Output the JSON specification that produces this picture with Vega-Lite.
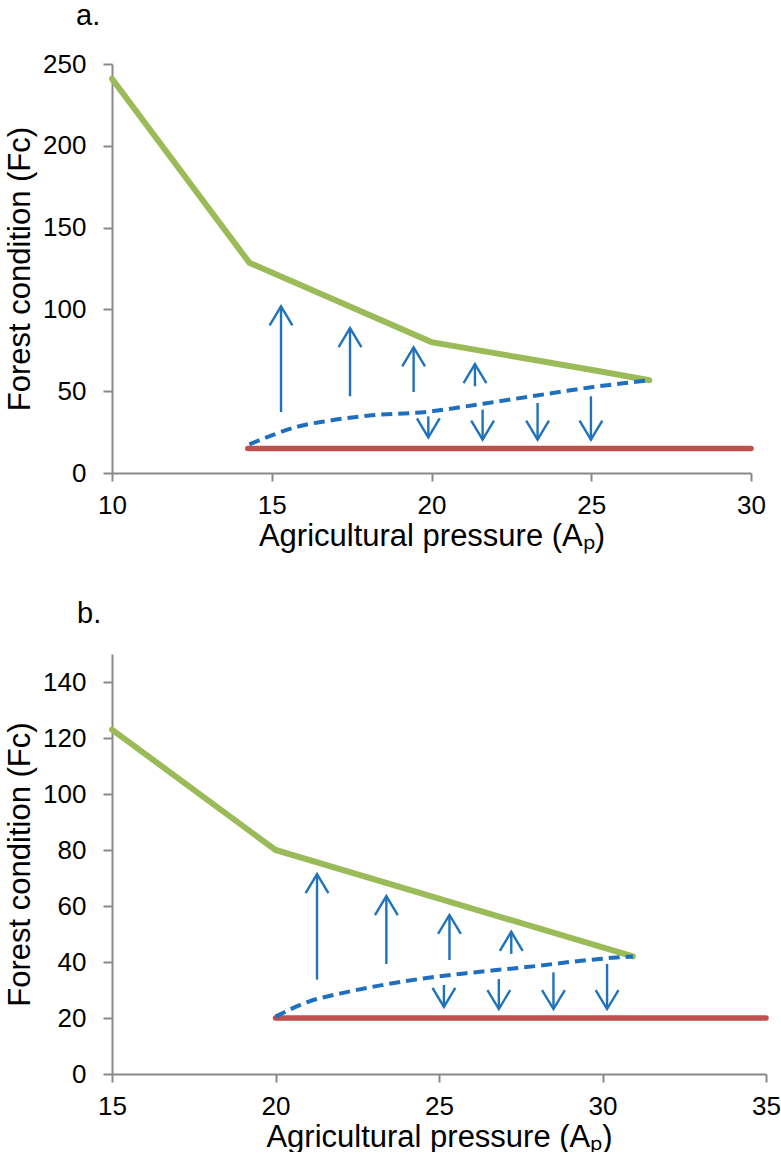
{
  "$schema": "https://vega.github.io/schema/vega-lite/v6.json",
  "background": "white",
  "padding": {"left": 4, "top": 2, "right": 0, "bottom": 0},
  "spacing": 49,
  "config": {
    "view": {"stroke": null},
    "font": "Liberation Sans",
    "axis": {
      "domainColor": "#898989", "tickColor": "#898989", "domainWidth": 2, "tickWidth": 2,
      "grid": false, "labelFont": "Liberation Sans", "labelFontSize": 26, "labelColor": "#000000",
      "titleFont": "Liberation Sans", "titleFontSize": 31, "titleFontWeight": "normal", "titleColor": "#000000",
      "labelFlush": false, "tickSize": 9
    },
    "axisX": {"labelPadding": 11, "titlePadding": 3, "tickSize": 8},
    "axisY": {"labelPadding": 17, "titlePadding": 6},
    "title": {"font": "Liberation Sans", "fontSize": 29, "fontWeight": "normal", "color": "#000000", "anchor": "start", "frame": "group"}
  },
  "datasets": {
    "a_upper": [
      {"ap": 10, "fc": 241}, {"ap": 14.3, "fc": 128.5}, {"ap": 20, "fc": 80}, {"ap": 23, "fc": 69.8}, {"ap": 25.3, "fc": 62}, {"ap": 26.82, "fc": 56.7}
    ],
    "a_lower": [{"ap": 14.25, "fc": 15}, {"ap": 30, "fc": 15}],
    "a_mid": [
      {"ap": 14.3, "fc": 17.5}, {"ap": 15, "fc": 23}, {"ap": 15.8, "fc": 28.3}, {"ap": 16.8, "fc": 32}, {"ap": 18, "fc": 35}, {"ap": 20, "fc": 37.7},
      {"ap": 21, "fc": 40.5}, {"ap": 22, "fc": 43.5}, {"ap": 23, "fc": 46.5}, {"ap": 24, "fc": 49.5}, {"ap": 25, "fc": 52.4}, {"ap": 26, "fc": 54.8}, {"ap": 26.82, "fc": 56.7}
    ],
    "a_arrows": [
      {"ap": 15.29, "from": 37.3, "to": 101.9, "dir": "up"},
      {"ap": 17.45, "from": 46.9, "to": 88.6, "dir": "up"},
      {"ap": 19.44, "from": 49.5, "to": 76.8, "dir": "up"},
      {"ap": 21.36, "from": 53, "to": 66.6, "dir": "up"},
      {"ap": 19.9, "from": 34.6, "to": 21.8, "dir": "down"},
      {"ap": 21.6, "from": 38.7, "to": 20.4, "dir": "down"},
      {"ap": 23.32, "from": 42.8, "to": 20.4, "dir": "down"},
      {"ap": 24.99, "from": 46.9, "to": 20.4, "dir": "down"}
    ],
    "b_upper": [{"ap": 15, "fc": 123}, {"ap": 20, "fc": 80}, {"ap": 25, "fc": 62.6}, {"ap": 30.93, "fc": 42}],
    "b_lower": [{"ap": 20, "fc": 20}, {"ap": 35, "fc": 20}],
    "b_mid": [
      {"ap": 20, "fc": 20.5}, {"ap": 21, "fc": 25.8}, {"ap": 22, "fc": 28.8}, {"ap": 23, "fc": 31.2}, {"ap": 24, "fc": 33.2}, {"ap": 25, "fc": 34.9},
      {"ap": 26, "fc": 36.2}, {"ap": 27, "fc": 37.4}, {"ap": 28, "fc": 38.6}, {"ap": 29, "fc": 40}, {"ap": 30, "fc": 41.2}, {"ap": 30.93, "fc": 42}
    ],
    "b_arrows": [
      {"ap": 21.27, "from": 33.7, "to": 71.4, "dir": "up"},
      {"ap": 23.39, "from": 39.3, "to": 63.5, "dir": "up"},
      {"ap": 25.32, "from": 40.7, "to": 56.8, "dir": "up"},
      {"ap": 27.21, "from": 42.9, "to": 50.8, "dir": "up"},
      {"ap": 25.15, "from": 31.8, "to": 24, "dir": "down"},
      {"ap": 26.83, "from": 33.9, "to": 23.2, "dir": "down"},
      {"ap": 28.5, "from": 36.3, "to": 23.2, "dir": "down"},
      {"ap": 30.14, "from": 39.3, "to": 23.2, "dir": "down"}
    ]
  },
  "vconcat": [
    {
      "width": 639,
      "height": 409,
      "title": {"text": "a.", "dx": -36, "offset": 20},
      "encoding": {
        "x": {"field": "ap", "type": "quantitative", "scale": {"domain": [10, 30], "nice": false}, "axis": {"values": [10, 15, 20, 25, 30], "title": "Agricultural pressure (Aₚ)"}},
        "y": {"field": "fc", "type": "quantitative", "scale": {"domain": [0, 250], "nice": false}, "axis": {"values": [0, 50, 100, 150, 200, 250], "title": "Forest condition (Fᴄ)"}}
      },
      "layer": [
        {"data": {"name": "a_lower"}, "mark": {"type": "line", "color": "#C0504D", "strokeWidth": 5.5, "strokeCap": "round"}},
        {"data": {"name": "a_upper"}, "mark": {"type": "line", "color": "#9BBB59", "strokeWidth": 6, "strokeCap": "round"}},
        {"data": {"name": "a_mid"}, "mark": {"type": "line", "color": "#1F6FBF", "strokeWidth": 4, "strokeDash": [11, 6], "interpolate": "monotone"}},
        {"data": {"name": "a_arrows"}, "mark": {"type": "rule", "color": "#1F72BB", "strokeWidth": 2.4},
         "encoding": {"y": {"field": "from", "type": "quantitative"}, "y2": {"field": "to"}}},
        {"data": {"name": "a_arrows"}, "mark": {"type": "point", "filled": false, "color": "#1F72BB", "strokeWidth": 2.4, "size": 1444, "opacity": 1},
         "encoding": {"y": {"field": "to", "type": "quantitative"},
           "shape": {"field": "dir", "type": "nominal", "scale": {"domain": ["up", "down"], "range": ["M-0.6,1L0,0L0.6,1", "M-0.6,-1L0,0L0.6,-1"]}, "legend": null}}}
      ]
    },
    {
      "width": 654,
      "height": 420,
      "title": {"text": "b.", "dx": -35, "offset": 25},
      "encoding": {
        "x": {"field": "ap", "type": "quantitative", "scale": {"domain": [15, 35], "nice": false}, "axis": {"values": [15, 20, 25, 30, 35], "title": "Agricultural pressure (Aₚ)"}},
        "y": {"field": "fc", "type": "quantitative", "scale": {"domain": [0, 150], "nice": false}, "axis": {"values": [0, 20, 40, 60, 80, 100, 120, 140], "title": "Forest condition (Fᴄ)"}}
      },
      "layer": [
        {"data": {"name": "b_lower"}, "mark": {"type": "line", "color": "#C0504D", "strokeWidth": 5.5, "strokeCap": "round"}},
        {"data": {"name": "b_upper"}, "mark": {"type": "line", "color": "#9BBB59", "strokeWidth": 6, "strokeCap": "round"}},
        {"data": {"name": "b_mid"}, "mark": {"type": "line", "color": "#1F6FBF", "strokeWidth": 4, "strokeDash": [11, 6], "interpolate": "monotone"}},
        {"data": {"name": "b_arrows"}, "mark": {"type": "rule", "color": "#1F72BB", "strokeWidth": 2.4},
         "encoding": {"y": {"field": "from", "type": "quantitative"}, "y2": {"field": "to"}}},
        {"data": {"name": "b_arrows"}, "mark": {"type": "point", "filled": false, "color": "#1F72BB", "strokeWidth": 2.4, "size": 1444, "opacity": 1},
         "encoding": {"y": {"field": "to", "type": "quantitative"},
           "shape": {"field": "dir", "type": "nominal", "scale": {"domain": ["up", "down"], "range": ["M-0.6,1L0,0L0.6,1", "M-0.6,-1L0,0L0.6,-1"]}, "legend": null}}}
      ]
    }
  ]
}
